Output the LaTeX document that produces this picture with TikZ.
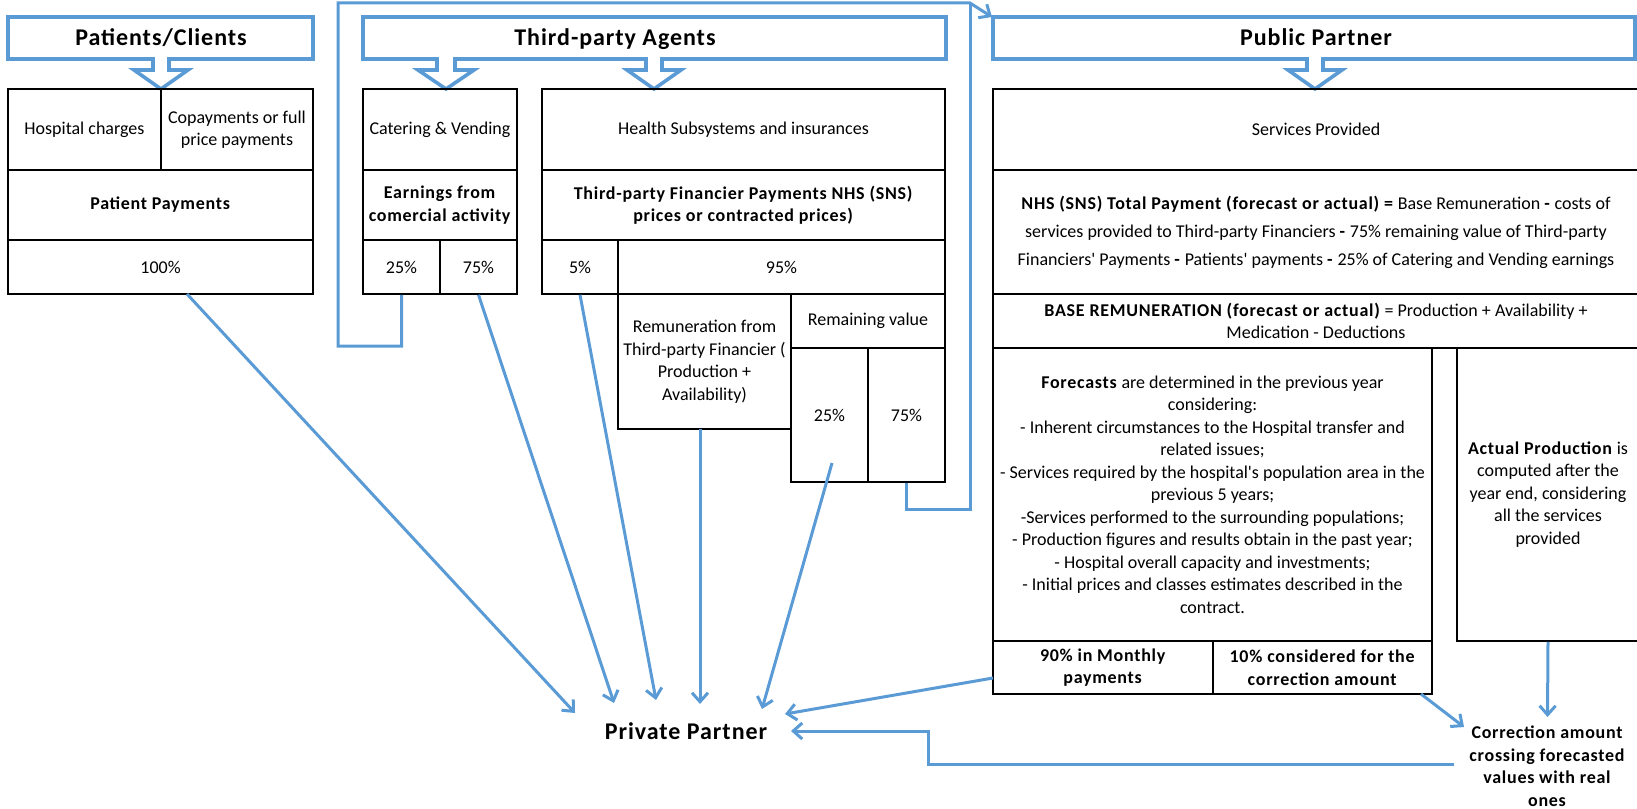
\documentclass[tikz,border=0pt]{standalone}
\usepackage{fontspec}
\setmainfont{Carlito}[BoldFeatures={LetterSpace=4}]
\usetikzlibrary{arrows.meta}
\definecolor{lblue}{RGB}{91,155,213}
\newcommand\normtxt{\fontsize{18}{22.5}\selectfont}
\tikzset{
  cellst/.style={draw=black, line width=1.5pt, inner sep=0pt, align=center, font=\normtxt},
  hdr/.style={draw=lblue, line width=3.6pt, line join=miter},
  hdrtxt/.style={inner sep=0pt, font=\fontsize{24}{29}\selectfont\bfseries},
  conn/.style={draw=lblue, line width=3pt, -{Straight Barb[length=9pt,width=16pt]}},
  plainconn/.style={draw=lblue, line width=3pt},
  freetxt/.style={inner sep=0pt, align=center, font=\normtxt\bfseries},
}
\newcommand\cellbox[7][]{\node[cellst,#1,minimum width={#5-#3},minimum height={#6-#4}] (#2) at ({(#3+#5)/2},{(#4+#6)/2}) {#7};}
\begin{document}
\begin{tikzpicture}[x=1pt,y=-1pt]
\useasboundingbox (0,0) rectangle (1637,808);

% ---------- header callouts ----------
\draw[hdr] (8,17) -- (313,17) -- (313,59) -- (169,59) -- (169,70) -- (188,70) -- (161,89) -- (134,70) -- (153,70) -- (153,59) -- (8,59) -- cycle;
\node[hdrtxt, anchor=base] (hpc) at (161,46) {Patients/Clients};

\draw[hdr] (363,17) -- (946,17) -- (946,59) -- (662,59) -- (662,70) -- (681,70) -- (654,89) -- (627,70) -- (646,70) -- (646,59)
  -- (455,59) -- (455,70) -- (474,70) -- (446,89) -- (418,70) -- (437,70) -- (437,59) -- (363,59) -- cycle;
\node[hdrtxt, anchor=base] (hta) at (615,46) {Third-party Agents};

\draw[hdr] (993,17) -- (1635,17) -- (1635,59) -- (1323,59) -- (1323,70) -- (1342,70) -- (1315,89) -- (1288,70) -- (1307,70) -- (1307,59) -- (993,59) -- cycle;
\node[hdrtxt, anchor=base] (hpp) at (1316,46) {Public Partner};

% ---------- Patients table ----------
\cellbox{hc}{8}{89}{161}{170}{Hospital charges}
\cellbox{cp}{161}{89}{313}{170}{Copayments or full\\price payments}
\cellbox{ppay}{8}{170}{313}{240}{\textbf{Patient Payments}}
\cellbox{p100}{8}{240}{313}{294}{100\%}

% ---------- Catering table ----------
\cellbox{cv}{363}{89}{517}{170}{Catering \& Vending}
\cellbox{ear}{363}{170}{517}{240}{\textbf{Earnings from}\\\textbf{comercial activity}}
\cellbox{c25}{363}{240}{440}{294}{25\%}
\cellbox{c75}{440}{240}{517}{294}{75\%}

% ---------- Health table ----------
\cellbox{hs}{542}{89}{945}{170}{Health Subsystems and insurances}
\cellbox{tfp}{542}{170}{945}{240}{\textbf{Third-party Financier Payments NHS (SNS)}\\\textbf{prices or contracted prices)}}
\cellbox{h5}{542}{240}{618}{294}{5\%}
\cellbox{h95}{618}{240}{945}{294}{95\%}
\cellbox{rem}{618}{294}{791}{429}{Remuneration from\\Third-party Financier (\\Production +\\Availability)}
\cellbox{rv}{791}{294}{945}{348}{Remaining value}
\cellbox{r25}{791}{348}{868}{482}{25\%}
\cellbox{r75}{868}{348}{945}{482}{75\%}

% ---------- Public partner table ----------
\cellbox{sp}{993}{89}{1639}{170}{Services Provided}
\cellbox[font=\fontsize{18}{28}\selectfont]{nhs}{993}{170}{1639}{294}{\textbf{NHS (SNS) Total Payment (forecast or actual) =} Base Remuneration \textbf{-} costs of\\services provided to Third-party Financiers \textbf{-} 75\% remaining value of Third-party\\Financiers\textquotesingle{} Payments \textbf{-} Patients\textquotesingle{} payments \textbf{-} 25\% of Catering and Vending earnings}
\cellbox{base}{993}{294}{1639}{348}{\textbf{BASE REMUNERATION (forecast or actual)} = Production + Availability +\\Medication - Deductions}
\cellbox{fc}{993}{348}{1432}{641}{\textbf{Forecasts} are determined in the previous year\\considering:\\- Inherent circumstances to the Hospital transfer and\\related issues;\\- Services required by the hospital\textquotesingle s population area in the\\previous 5 years;\\-Services performed to the surrounding populations;\\- Production figures and results obtain in the past year;\\- Hospital overall capacity and investments;\\- Initial prices and classes estimates described in the\\contract.}
\cellbox{m90}{993}{641}{1213}{694}{\textbf{90\% in Monthly}\\\textbf{payments}}
\cellbox{m10}{1213}{641}{1432}{694}{\textbf{10\% considered for the}\\\textbf{correction amount}}
\cellbox{act}{1457}{348}{1639}{641}{\textbf{Actual Production} is\\computed after the\\year end, considering\\all the services\\provided}

% ---------- free texts ----------
\node[hdrtxt, anchor=base] (priv) at (686,739) {Private Partner};
\node[freetxt] (corr) at (1547,766) {Correction amount\\crossing forecasted\\values with real\\ones};

% ---------- connector end points ----------
\coordinate (s1) at (187,294);  \coordinate (e1) at (575,713);
\coordinate (e2) at (614,703);
\coordinate (e3) at (656,700);
\coordinate (s4) at (700,429);  \coordinate (e4) at (700,704);
\coordinate (s5) at (832,463);  \coordinate (e5) at (762,709);
\coordinate (s6) at (993,678);  \coordinate (e6) at (785,714);
\coordinate (s7) at (1421,694); \coordinate (e7) at (1464,727);
\coordinate (e8) at (1547.5,717);
\coordinate (s9) at (1454,764); \coordinate (e9) at (791,731);
\coordinate (ppcorner) at (992,17);

% ---------- connectors ----------
\draw[conn] (s1) -- (e1);
\draw[conn] (c75.south) -- (e2);
\draw[conn] (h5.south) -- (e3);
\draw[conn] (s4) -- (e4);
\draw[conn] (s5) -- (e5);
\draw[conn] (s6) -- (e6);
\draw[conn] (s7) -- (e7);
\draw[conn] (act.south) -- (e8);
\draw[conn] (s9) -- (928,764) -- (928,731) -- (e9);
\draw[conn] (c25.south) -- (401.5,346) -- (338,346) -- (338,3) -- (970,3) -- (ppcorner);
\draw[plainconn] (r75.south) -- (906.5,509) -- (970,509) -- (970,3);
\end{tikzpicture}
\end{document}
